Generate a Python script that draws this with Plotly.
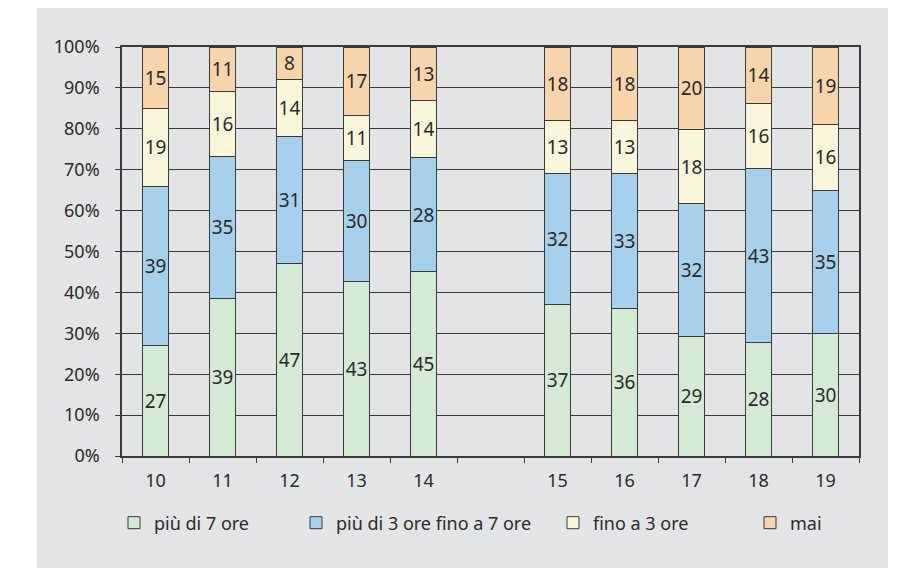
import plotly.graph_objects as go

# Grades shown on the x axis; the empty slot separates the two school levels
grades = ["10", "11", "12", "13", "14", " ", "15", "16", "17", "18", "19"]
grades_with_data = ["10", "11", "12", "13", "14", "15", "16", "17", "18", "19"]

series_names = ["più di 7 ore", "più di 3 ore fino a 7 ore", "fino a 3 ore", "mai"]
over_7 = [27, 39, 47, 43, 45, 37, 36, 29, 28, 30]
from_3_to_7 = [39, 35, 31, 30, 28, 32, 33, 32, 43, 35]
up_to_3 = [19, 16, 14, 11, 14, 13, 13, 18, 16, 16]
never = [15, 11, 8, 17, 13, 18, 18, 20, 14, 19]

series_values = [over_7, from_3_to_7, up_to_3, never]
series_colors = ["#d5ead5", "#a7d0ec", "#faf6db", "#f7d4ab"]

y_ticks = [0, 10, 20, 30, 40, 50, 60, 70, 80, 90, 100]

FONT = "Noto Sans"
TEXT_COLOR = "#2b2b2b"
LINE_COLOR = "#3a3a3a"
PANEL = "#e3e4e6"

W, H = 897, 568
L, R, T, B = 122, 38, 47, 112
plot_w = W - L - R
plot_h = H - T - B

def px_x(p):
    return (p - L) / plot_w

def px_y(p):
    return (H - B - p) / plot_h

# one legend box per series so each entry sits at its own spot along the bottom
legend_names = ["legend", "legend2", "legend3", "legend4"]
legend_left = [114, 296, 553, 750]

fig = go.Figure()
for i, (name, vals, col) in enumerate(zip(series_names, series_values, series_colors)):
    fig.add_trace(go.Bar(
        x=grades_with_data,
        y=vals,
        name=name,
        marker=dict(color=col, line=dict(color=LINE_COLOR, width=1)),
        text=[str(v) for v in vals],
        textposition="inside",
        insidetextanchor="middle",
        textangle=0,
        constraintext="none",
        textfont=dict(family=FONT, size=19, color=TEXT_COLOR),
        width=0.4,
        legend=legend_names[i],
    ))

layout_legends = {}
for i, ln in enumerate(legend_names):
    layout_legends[ln] = dict(
        x=px_x(legend_left[i]), xanchor="left",
        y=px_y(523), yanchor="middle",
        orientation="h",
        bgcolor="rgba(0,0,0,0)",
        font=dict(family=FONT, size=18, color=TEXT_COLOR),
        itemclick=False,
    )

fig.update_layout(
    width=W, height=H,
    margin=dict(l=L, r=R, t=T, b=B, pad=0),
    barmode="stack",
    barnorm="percent",
    paper_bgcolor="white",
    plot_bgcolor="rgba(0,0,0,0)",
    font=dict(family=FONT, size=18, color=TEXT_COLOR),
    showlegend=True,
    **layout_legends,
    shapes=[dict(
        type="rect", xref="paper", yref="paper",
        x0=px_x(37), x1=px_x(888), y0=px_y(568), y1=px_y(8),
        fillcolor=PANEL, line=dict(width=0), layer="below",
    )],
)

fig.update_xaxes(
    type="category",
    categoryorder="array",
    categoryarray=grades,
    range=[-0.5, len(grades) - 0.5],
    tickson="boundaries",
    ticks="outside", ticklen=5, tickcolor=LINE_COLOR, tickwidth=1,
    showline=True, linecolor=LINE_COLOR, linewidth=1.5, mirror=True,
    showgrid=False,
    ticklabelstandoff=8,
    tickfont=dict(family=FONT, size=18, color=TEXT_COLOR),
    fixedrange=True,
)

fig.update_yaxes(
    range=[0, 100],
    tickvals=y_ticks,
    ticktext=[f"{v}%" for v in y_ticks],
    ticks="outside", ticklen=5, tickcolor=LINE_COLOR, tickwidth=1,
    showline=True, linecolor=LINE_COLOR, linewidth=1.5, mirror=True,
    showgrid=True, gridcolor=LINE_COLOR, gridwidth=1,
    zeroline=False,
    ticklabelstandoff=12,
    tickfont=dict(family=FONT, size=18, color=TEXT_COLOR),
    fixedrange=True,
)

fig.write_html("out.html")
